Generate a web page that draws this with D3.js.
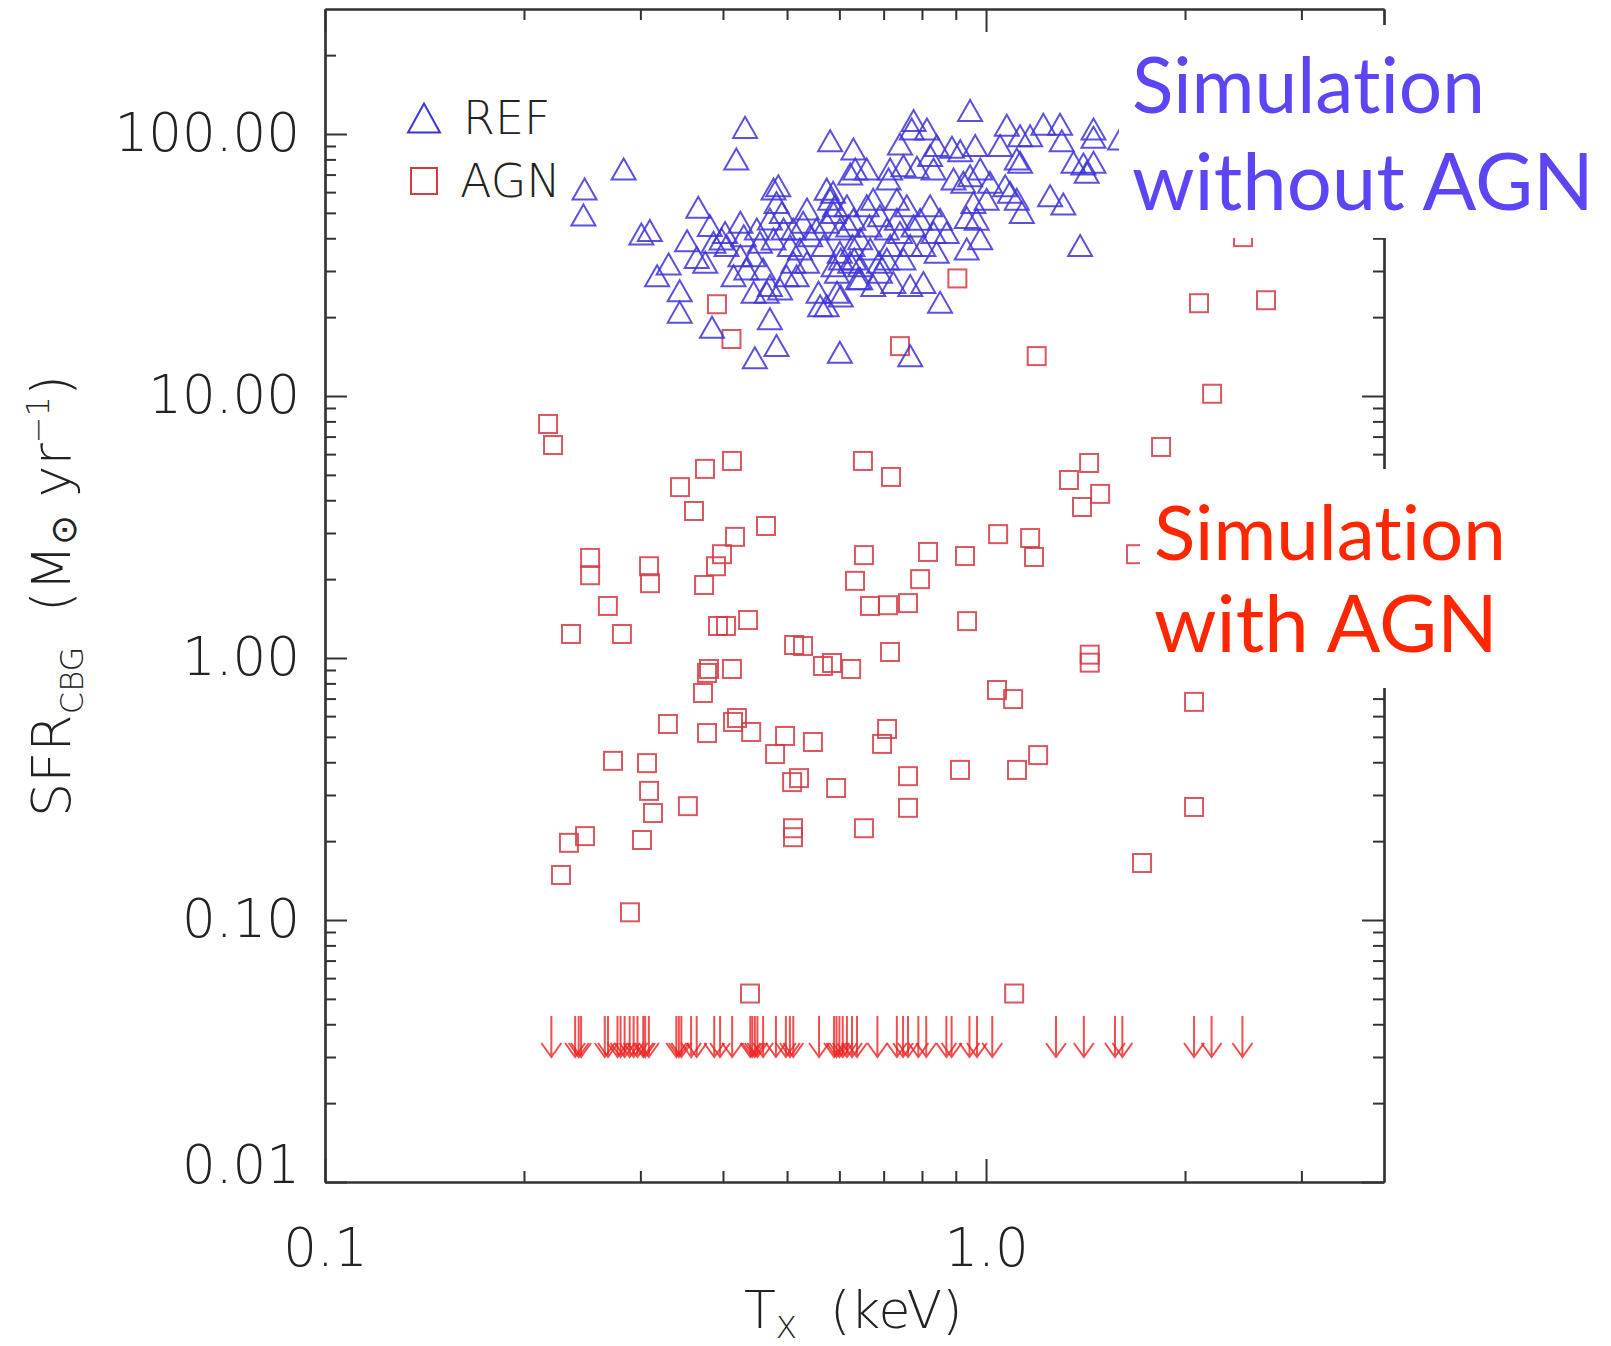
<!DOCTYPE html>
<html>
<head>
<meta charset="utf-8">
<script src="https://cdn.jsdelivr.net/npm/d3@7"></script>
<style>
  html, body { margin: 0; padding: 0; background: #fff; }
  svg { display: block; }
  .note { font-variant-ligatures: none; font-feature-settings: "liga" 0, "clig" 0, "dlig" 0, "kern" 1; }
</style>
</head>
<body>
<svg id="chart" width="1611" height="1346"></svg>
<script>
// ---------------- DATA ----------------
// REF simulation (triangles): [Tx keV, SFR Msun/yr]
const refPoints = [
  [0.247,61.7],[0.246,49.1],[0.283,73.5],[0.432,106],[0.419,80.3],[0.301,41.5],[0.310,42.8],
  [0.367,52.5],[0.382,44.7],[0.353,39.1],[0.331,31.9],[0.318,28.8],[0.344,25.2],[0.344,20.9],
  [0.385,18.3],[0.365,33.8],[0.376,32.4],[0.387,38.6],[0.398,39.7],[0.405,37.5],[0.425,46.0],
  [0.430,40.9],[0.445,34.3],[0.450,43.4],[0.415,28.8],[0.434,30.5],[0.445,24.9],[0.477,61.7],
  [0.485,63.5],[0.482,54.8],[0.491,50.2],[0.471,47.4],[0.455,38.6],[0.477,39.7],[0.471,26.4],
  [0.488,25.6],[0.466,24.9],[0.471,19.7],[0.482,15.6],[0.447,14.0],[0.505,37.5],[0.511,43.4],
  [0.536,51.7],[0.523,36.4],[0.536,32.4],[0.517,28.8],[0.558,24.9],[0.561,22.1],[0.554,43.4],
  [0.494,43.4],[0.511,32.4],[0.542,40.9],[0.529,46.0],[0.499,28.8],[0.425,34.3],[0.403,42.1],
  [0.460,30.5],
  [0.946,123],[1.075,108],[1.221,109],[1.294,109],[1.454,104.5],[1.454,97.1],[0.581,94.3],
  [0.630,87.7],[0.777,112.5],[0.772,104.5],[0.814,104.5],[0.741,91.6],[0.842,90.3],[0.888,89.0],
  [0.914,86.4],[0.963,90.3],[1.050,90.3],[1.126,98.5],[1.166,98.5],[1.302,94.3],[1.356,78.0],
  [1.404,76.8],[1.454,78.0],[1.420,71.4],[1.113,80.3],[1.126,78.0],[0.634,73.5],[0.623,70.4],
  [0.660,73.5],[0.716,73.5],[0.712,67.3],[0.750,75.7],[0.786,74.6],[0.823,82.7],[0.833,73.5],
  [0.893,67.3],[0.924,65.4],[0.946,69.3],[0.980,73.5],[1.014,65.4],[1.069,63.5],[1.087,59.9],
  [1.113,56.4],[1.133,50.2],[1.250,58.1],[1.309,54.0],[0.957,54.8],[0.968,47.3],[0.935,48.0],
  [0.980,39.8],[0.935,36.4],[1.002,56.4],[1.388,37.5],[0.574,61.6],[0.581,56.4],[0.588,50.2],
  [0.574,46.0],[0.601,43.4],[0.568,37.5],[0.601,35.4],[0.588,31.4],[0.623,32.4],[0.645,39.8],
  [0.660,53.2],[0.675,56.4],[0.691,48.8],[0.708,43.4],[0.733,56.4],[0.759,53.2],[0.741,42.1],
  [0.768,37.5],[0.795,47.3],[0.823,53.2],[0.852,47.3],[0.833,42.1],[0.872,42.1],[0.804,37.5],
  [0.842,35.4],[0.750,33.3],[0.708,33.3],[0.691,29.7],[0.724,27.1],[0.768,26.4],[0.804,27.1],
  [0.675,26.4],[0.645,28.0],[0.595,24.9],[0.574,22.1],[0.852,22.8],[0.601,14.7],[0.768,14.25],
  [0.630,47.3],[0.668,36.4],[0.716,37.5],[0.616,53.2],[0.777,44.6],[0.645,31.4],[0.733,47.3],
  [1.595,95.7],[0.603,33.3],[0.595,29.7],[0.619,44.6],[0.628,37.5],[0.632,33.3],[0.640,28.0],
  [0.666,44.6],[0.689,32.4],[0.603,24.1],[0.587,59.9],[0.591,53.2]
];

// AGN simulation (squares): [Tx keV, SFR Msun/yr]
const agnPoints = [
  [0.2175,7.82],[0.2213,6.50],[0.4127,5.65],[0.3757,5.27],[0.3444,4.49],[0.3616,3.64],
  [0.6513,5.65],[0.7183,4.91],[1.432,5.55],[1.335,4.78],[1.397,3.77],[0.4647,3.19],
  [0.4171,2.90],[0.3986,2.49],[0.3904,2.24],[0.3745,1.90],[0.2518,2.41],[0.2518,2.07],
  [0.3092,2.24],[0.3102,1.93],[0.2679,1.58],[0.2356,1.235],[0.2813,1.235],[0.3931,1.325],
  [0.4042,1.325],[0.4366,1.396],[0.6536,2.47],[0.8171,2.54],[0.9294,2.45],[1.043,2.97],
  [1.166,2.87],[1.182,2.43],[0.6336,1.97],[0.7948,2.00],[0.6674,1.58],[0.7108,1.59],
  [0.7621,1.62],[0.9361,1.383],[0.5124,1.121],[0.5287,1.111],[0.5666,0.932],[0.5848,0.957],
  [0.6251,0.908],[0.7158,1.054],[1.435,1.03],[1.435,0.96],[0.381,0.908],[0.3784,0.877],
  [0.4127,0.908],[0.3731,0.735],[1.039,0.755],[1.099,0.697],[0.3302,0.56],[0.3784,0.517],
  [0.4142,0.570],[0.4200,0.590],[0.4413,0.522],[0.4966,0.504],[0.4796,0.430],[0.5472,0.478],
  [0.7084,0.536],[0.6962,0.47],[0.7621,0.354],[0.9133,0.374],[1.114,0.374],[1.199,0.426],
  [0.2727,0.405],[0.307,0.397],[0.3092,0.311],[0.3135,0.256],[0.354,0.272],[0.5089,0.336],
  [0.5214,0.348],[0.5932,0.319],[0.7621,0.268],[0.2474,0.209],[0.2339,0.197],[0.3017,0.202],
  [0.5105,0.224],[0.5105,0.207],[0.6536,0.224],[0.2275,0.1485],[0.2893,0.107],
  [2.448,40.4],[2.652,23.2],[2.10,22.6],[2.198,10.2],[0.905,28.1],[0.3917,22.4],[0.412,16.5],
  [0.741,15.5],[1.193,14.2],[1.84,6.39],[1.488,4.23],[1.686,2.49],[2.064,0.68],[2.064,0.27],
  [1.722,0.165],[0.4395,0.0524],[1.103,0.0524]
];

// AGN upper limits (arrows): Tx values, drawn from limitSFR down to limitTipSFR
const agnLimitT = [
  0.220,0.239,0.242,0.244,0.265,0.268,0.277,0.280,0.284,0.289,0.293,0.297,0.303,0.305,0.309,
  0.340,0.343,0.346,0.358,0.365,0.388,0.396,0.413,0.440,0.443,0.447,0.451,0.460,0.481,0.498,
  0.505,0.511,0.559,0.589,0.594,0.600,0.607,0.616,0.627,0.638,0.685,0.733,0.749,0.762,0.790,
  0.812,0.871,0.887,0.944,0.969,1.022,1.276,1.406,1.567,1.608,2.064,2.194,2.443
];
const limitSFR = 0.043;
const limitTipSFR = 0.030;

// Axes
const xDomain = [0.1, 4];
const yDomain = [0.01, 300];
const xMajorTicks = [0.1, 1];
const xTickLabels = ["0.1", "1.0"];
const xMinorTicks = [0.2, 0.3, 0.4, 0.5, 0.6, 0.7, 0.8, 0.9, 2, 3];
const yMajorTicks = [0.01, 0.1, 1, 10, 100];
const yTickLabels = ["0.01", "0.10", "1.00", "10.00", "100.00"];
const yMinorMultipliers = [2, 3, 4, 5, 6, 7, 8, 9];

const legendLabels = ["REF", "AGN"];
const noteBlue = ["Simulation", "without AGN"];
const noteRed = ["Simulation", "with AGN"];

// ---------------- DRAWING ----------------
const svg = d3.select("#chart");
const L = 325, R = 1384, T = 9, B = 1182;
const x = d3.scaleLog().domain(xDomain).range([L, R]);
const y = d3.scaleLog().domain(yDomain).range([B, T]);

const yMinorTicks = [];
yMajorTicks.forEach(d => yMinorMultipliers.forEach(m => { const v = d * m; if (v < yDomain[1]) yMinorTicks.push(v); }));

const axisColor = "#333";
const tickFont = "'DejaVu Sans', 'Liberation Sans', sans-serif";

svg.append("rect").attr("width", 1611).attr("height", 1346).attr("fill", "#fff");

function styleAxis(g) {
  g.selectAll("path.domain").attr("stroke", axisColor).attr("stroke-width", 2.2);
  g.selectAll(".tick line").attr("stroke", axisColor).attr("stroke-width", 2);
  g.selectAll(".tick text").attr("fill", "#222");
  g.attr("font-family", tickFont).attr("font-size", 53).attr("font-weight", 200);
}

// left
svg.append("g").attr("transform", `translate(${L},0)`)
  .call(d3.axisLeft(y).tickValues(yMinorTicks).tickFormat("").tickSize(-11).tickSizeOuter(0)).call(styleAxis);
const gLeft = svg.append("g").attr("transform", `translate(${L},0)`)
  .call(d3.axisLeft(y).tickValues(yMajorTicks).tickFormat((d, i) => yTickLabels[i]).tickSize(-22).tickSizeOuter(0).tickPadding(25))
  .call(styleAxis);
gLeft.selectAll(".tick text").filter(d => d === yDomain[0]).attr("transform", "translate(0,-16)");
// right
svg.append("g").attr("transform", `translate(${R},0)`)
  .call(d3.axisRight(y).tickValues(yMinorTicks).tickFormat("").tickSize(-11).tickSizeOuter(0)).call(styleAxis);
svg.append("g").attr("transform", `translate(${R},0)`)
  .call(d3.axisRight(y).tickValues(yMajorTicks).tickFormat("").tickSize(-22).tickSizeOuter(0)).call(styleAxis);
// bottom
svg.append("g").attr("transform", `translate(0,${B})`)
  .call(d3.axisBottom(x).tickValues(xMinorTicks).tickFormat("").tickSize(-11).tickSizeOuter(0)).call(styleAxis);
svg.append("g").attr("transform", `translate(0,${B})`)
  .call(d3.axisBottom(x).tickValues(xMajorTicks).tickFormat((d, i) => xTickLabels[i]).tickSize(-23).tickSizeOuter(0).tickPadding(46))
  .call(styleAxis);
// top
svg.append("g").attr("transform", `translate(0,${T})`)
  .call(d3.axisTop(x).tickValues(xMinorTicks).tickFormat("").tickSize(-11).tickSizeOuter(0)).call(styleAxis);
svg.append("g").attr("transform", `translate(0,${T})`)
  .call(d3.axisTop(x).tickValues(xMajorTicks).tickFormat("").tickSize(-23).tickSizeOuter(0)).call(styleAxis);

// axis titles
const xt = svg.append("text").attr("x", 744).attr("y", 1328)
  .attr("font-family", tickFont).attr("font-size", 52).attr("font-weight", 200).attr("fill", "#222");
xt.append("tspan").text("T");
xt.append("tspan").attr("font-size", 31).attr("dy", 10).text("X");
xt.append("tspan").attr("dy", -10).text("\u00a0\u00a0(keV)");

const yt = svg.append("text").attr("transform", "translate(70,596) rotate(-90)")
  .attr("text-anchor", "middle")
  .attr("font-family", tickFont).attr("font-size", 54).attr("font-weight", 200).attr("fill", "#222");
yt.append("tspan").text("SFR");
yt.append("tspan").attr("font-size", 32).attr("dy", 13).text("CBG");
yt.append("tspan").attr("dy", -13).text("\u00a0\u00a0(M");
yt.append("tspan").attr("font-size", 36).attr("dy", 6).text("\u2299");
yt.append("tspan").attr("dy", -6).text("\u00a0yr");
yt.append("tspan").attr("font-size", 32).attr("dy", -21).text("\u22121");
yt.append("tspan").attr("dy", 21).text(")");

// markers
const triPath = (cx, cy, w, h) => `M${cx - w / 2},${cy + h / 2}L${cx},${cy - h / 2}L${cx + w / 2},${cy + h / 2}Z`;
const blue = "#3d34d6";
const red = "#d23a44";

// upper-limit arrows
const arrows = svg.append("g").attr("stroke", "#ee2222").attr("stroke-width", 2)
  .attr("stroke-opacity", 0.8).attr("fill", "none");
arrows.selectAll("path").data(agnLimitT).join("path")
  .attr("d", d => {
    const cx = x(d), y0 = y(limitSFR), y1 = y(limitTipSFR);
    return `M${cx},${y0}L${cx},${y1}M${cx - 10},${y1 - 14}L${cx},${y1}L${cx + 10},${y1 - 14}`;
  });

svg.append("g").selectAll("rect").data(agnPoints).join("rect")
  .attr("x", d => x(d[0]) - 9).attr("y", d => y(d[1]) - 9)
  .attr("width", 18).attr("height", 18)
  .attr("fill", "none").attr("stroke", red).attr("stroke-width", 2).attr("stroke-opacity", 0.85);

svg.append("g").selectAll("path").data(refPoints).join("path")
  .attr("d", d => triPath(x(d[0]), y(d[1]), 24, 21))
  .attr("fill", "none").attr("stroke", blue).attr("stroke-width", 2).attr("stroke-opacity", 0.85);

// legend
const lg = svg.append("g");
lg.append("path").attr("d", triPath(424, 118, 32, 29)).attr("fill", "none").attr("stroke", blue).attr("stroke-width", 2);
lg.append("rect").attr("x", 411).attr("y", 168).attr("width", 26).attr("height", 26)
  .attr("fill", "none").attr("stroke", red).attr("stroke-width", 2);
lg.append("text").attr("x", 463).attr("y", 134).text(legendLabels[0])
  .attr("font-family", tickFont).attr("font-size", 46).attr("font-weight", 200).attr("fill", "#222");
lg.append("text").attr("x", 460).attr("y", 197).text(legendLabels[1])
  .attr("font-family", tickFont).attr("font-size", 46).attr("font-weight", 200).attr("fill", "#222");

// annotations: font size chosen so that each line spans the width seen in the reference
const noteFont = "Lato, 'Open Sans', sans-serif";
function note(txt, x0, y0, targetW, color) {
  const t = svg.append("text").attr("class", "note").attr("x", x0).attr("y", y0).text(txt)
    .attr("font-family", noteFont).attr("font-size", 80).attr("fill", color);
  const w = t.node().getComputedTextLength();
  if (w > 0) {
    const fs = 80 * targetW / w;
    t.attr("font-size", Math.min(fs, 84));
    if (fs > 84) t.attr("textLength", targetW).attr("lengthAdjust", "spacing");
  }
  return t;
}
svg.append("rect").attr("x", 1119).attr("y", 25).attr("width", 492).attr("height", 213).attr("fill", "#fff");
note(noteBlue[0], 1132, 113, 353, "#5b45f5");
note(noteBlue[1], 1132, 210, 462, "#5b45f5");

svg.append("rect").attr("x", 1140).attr("y", 469).attr("width", 370).attr("height", 219).attr("fill", "#fff");
note(noteRed[0], 1154, 560, 352, "#ff2600");
note(noteRed[1], 1154, 652, 344, "#ff2600");
</script>
</body>
</html>
